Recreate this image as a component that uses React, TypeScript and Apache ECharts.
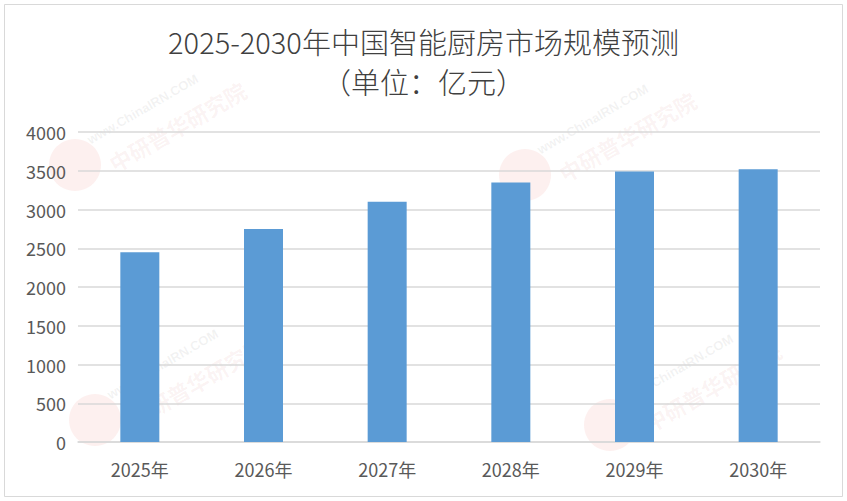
import React, { useEffect, useRef } from "react";
import * as echarts from "echarts";

const categories = ["2025年", "2026年", "2027年", "2028年", "2029年", "2030年"];
const values = [2450, 2750, 3100, 3350, 3490, 3520];
const titleText = "2025-2030年中国智能厨房市场规模预测";
const subtitleText = "（单位：亿元）";

const FONT = "'Noto Sans CJK SC', sans-serif";

export default function App() {
  const ref = useRef<HTMLDivElement>(null);
  useEffect(() => {
    document.body.style.margin = "0";
    const chart = echarts.init(ref.current!, null, { renderer: "svg" });
    const wm = (x: number, y: number) => [
      {
        type: "circle",
        shape: { cx: x, cy: y, r: 26 },
        style: { fill: "rgba(230,90,80,0.09)" },
        silent: true,
      },
      {
        type: "text",
        x: x + 30,
        y: y - 10,
        rotation: Math.PI / 6,
        style: {
          text: "中研普华研究院",
          font: "bold 22px 'Noto Sans CJK SC'",
          fill: "rgba(200,80,80,0.07)",
        },
        silent: true,
      },
      {
        type: "text",
        x: x + 10,
        y: y - 30,
        rotation: Math.PI / 6,
        style: {
          text: "www.ChinaIRN.COM",
          font: "bold 13px 'Liberation Sans'",
          fill: "rgba(150,150,150,0.12)",
        },
        silent: true,
      },
    ];
    const titleStyle = {
      fontFamily: FONT,
      fontSize: 29,
      lineHeight: 29,
      fontWeight: 300,
      color: "#404040",
    };
    chart.setOption({
      animation: false,
      backgroundColor: "#ffffff",
      title: [
        { text: titleText, left: "center", top: 26, padding: 0, textStyle: titleStyle },
        { text: subtitleText, left: "center", top: 66, padding: 0, textStyle: titleStyle },
      ],
      graphic: [
        {
          type: "rect",
          shape: { x: 4.5, y: 4.5, width: 838, height: 492 },
          style: { fill: "none", stroke: "#d9d9d9", lineWidth: 1 },
          silent: true,
          z: 10,
        },
        ...wm(75, 165),
        ...wm(525, 175),
        ...wm(95, 420),
        ...wm(610, 425),
      ],
      grid: { left: 78, right: 27, top: 132, bottom: 59 },
      xAxis: {
        type: "category",
        data: categories,
        axisTick: { show: false },
        axisLine: { lineStyle: { color: "#d9d9d9", width: 1.5 } },
        axisLabel: { color: "#595959", fontSize: 18, fontFamily: FONT, margin: 18 },
      },
      yAxis: {
        type: "value",
        min: 0,
        max: 4000,
        interval: 500,
        axisLine: { show: false },
        axisTick: { show: false },
        splitLine: { lineStyle: { color: "#d9d9d9", width: 1.5 } },
        axisLabel: {
          color: "#595959",
          fontSize: 18,
          fontFamily: FONT,
          margin: 12,
          formatter: (v: number) => String(v),
        },
      },
      series: [
        {
          type: "bar",
          data: values,
          barWidth: 39,
          itemStyle: { color: "#5b9bd5" },
        },
      ],
    });
    return () => chart.dispose();
  }, []);
  return <div ref={ref} style={{ width: 847, height: 501 }} />;
}
